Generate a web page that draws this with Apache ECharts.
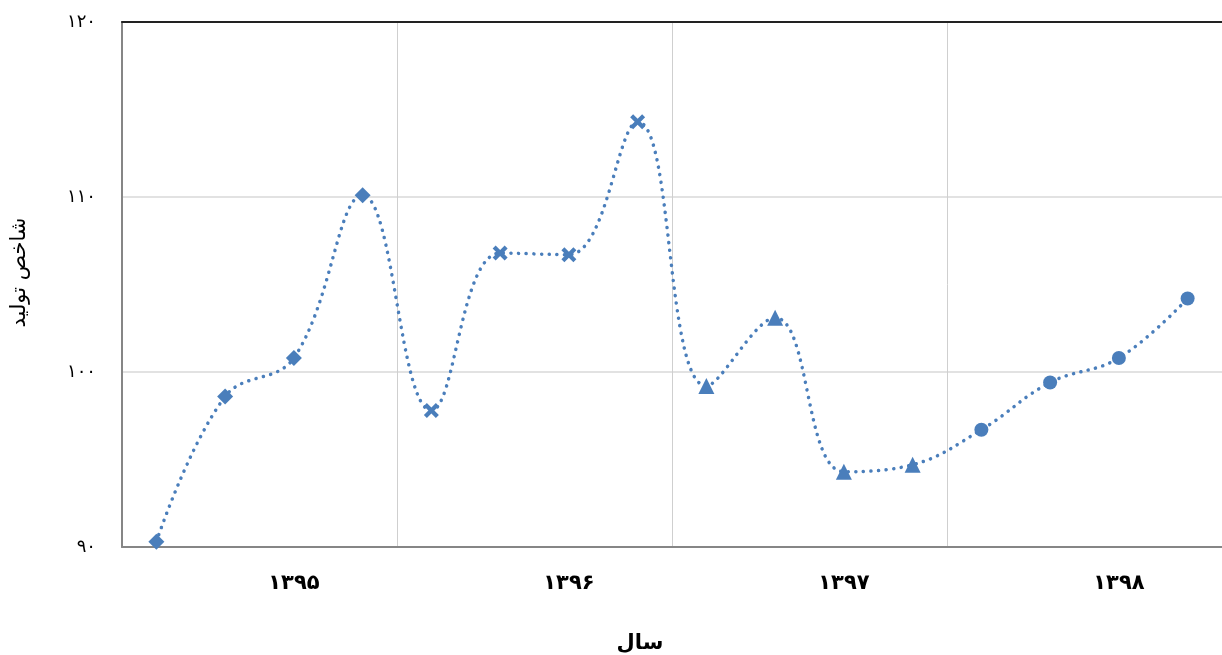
<!DOCTYPE html>
<html><head><meta charset="utf-8">
<script src="https://cdn.jsdelivr.net/npm/echarts@6/dist/echarts.min.js"></script>
<style>html,body{margin:0;padding:0;background:#fff}#c{width:1222px;height:655px}</style>
</head><body><div id="c"></div>
<script>
const categories = ['1395-1','1395-2','1395-3','1395-4','1396-1','1396-2','1396-3','1396-4','1397-1','1397-2','1397-3','1397-4','1398-1','1398-2','1398-3','1398-4'];
const years = ['۱۳۹۵','۱۳۹۶','۱۳۹۷','۱۳۹۸'];
const values = [90.3, 98.6, 100.8, 110.1, 97.8, 106.8, 106.7, 114.3, 99.2, 103.1, 94.3, 94.7, 96.7, 99.4, 100.8, 104.2];
const yTicks = {90:'۹۰',100:'۱۰۰',110:'۱۱۰',120:'۱۲۰'};
const crossPath = 'path://M2,0 L5,3 L8,0 L10,2 L7,5 L10,8 L8,10 L5,7 L2,10 L0,8 L3,5 L0,2 Z';
const yearSymbols = ['diamond', crossPath, 'triangle', 'circle'];
const yearSizes = [16, 15, 16, 14];
const color = '#4a7ebb';
const font = 'DejaVu Sans';

const data = values.map((v,i)=>({value:v, symbol: yearSymbols[Math.floor(i/4)], symbolSize: yearSizes[Math.floor(i/4)]}));

const chart = echarts.init(document.getElementById('c'));
chart.setOption({
  animation:false,
  grid:{left:122,right:0,top:22,bottom:108,containLabel:false,outerBoundsMode:'none'},
  xAxis:[{
    type:'category', data:categories, boundaryGap:true,
    axisLine:{lineStyle:{color:'#868686',width:2}},
    axisTick:{show:false},
    axisLabel:{interval:(i)=>i%4===2, formatter:(v,i)=>years[Math.floor(i/4)], fontFamily:font, fontSize:21, fontWeight:'bold', color:'#000', margin:26},
    splitLine:{show:true, interval:3, lineStyle:{color:'#cfcfcf',width:1}},
    name:'سال', nameLocation:'middle', nameGap:86,
    nameTextStyle:{fontFamily:font, fontSize:21, fontWeight:'bold', color:'#000', padding:[0,64,0,0]}
  },{
    type:'category', data:categories, position:'top',
    axisLine:{lineStyle:{color:'#222222',width:2}},
    axisTick:{show:false}, axisLabel:{show:false}, splitLine:{show:false}
  }],
  yAxis:{
    type:'value', min:90, max:120, interval:10,
    axisLine:{show:true, lineStyle:{color:'#868686',width:2}},
    axisTick:{show:false},
    axisLabel:{formatter:(v)=>yTicks[v], fontFamily:font, fontSize:18, color:'#000', margin:26},
    splitLine:{lineStyle:{color:'#d9d9d9',width:1.5}},
    name:'شاخص تولید', nameLocation:'middle', nameGap:92, nameRotate:90,
    nameTextStyle:{fontFamily:font, fontSize:21, color:'#000', padding:[0,0,0,24]}
  },
  series:[{
    type:'line', data:data, smooth:0.4,
    itemStyle:{color:color},
    lineStyle:{color:color, width:3.5, type:[0.1,7.5], cap:'round'},
    showAllSymbol:true
  }]
});
</script></body></html>
